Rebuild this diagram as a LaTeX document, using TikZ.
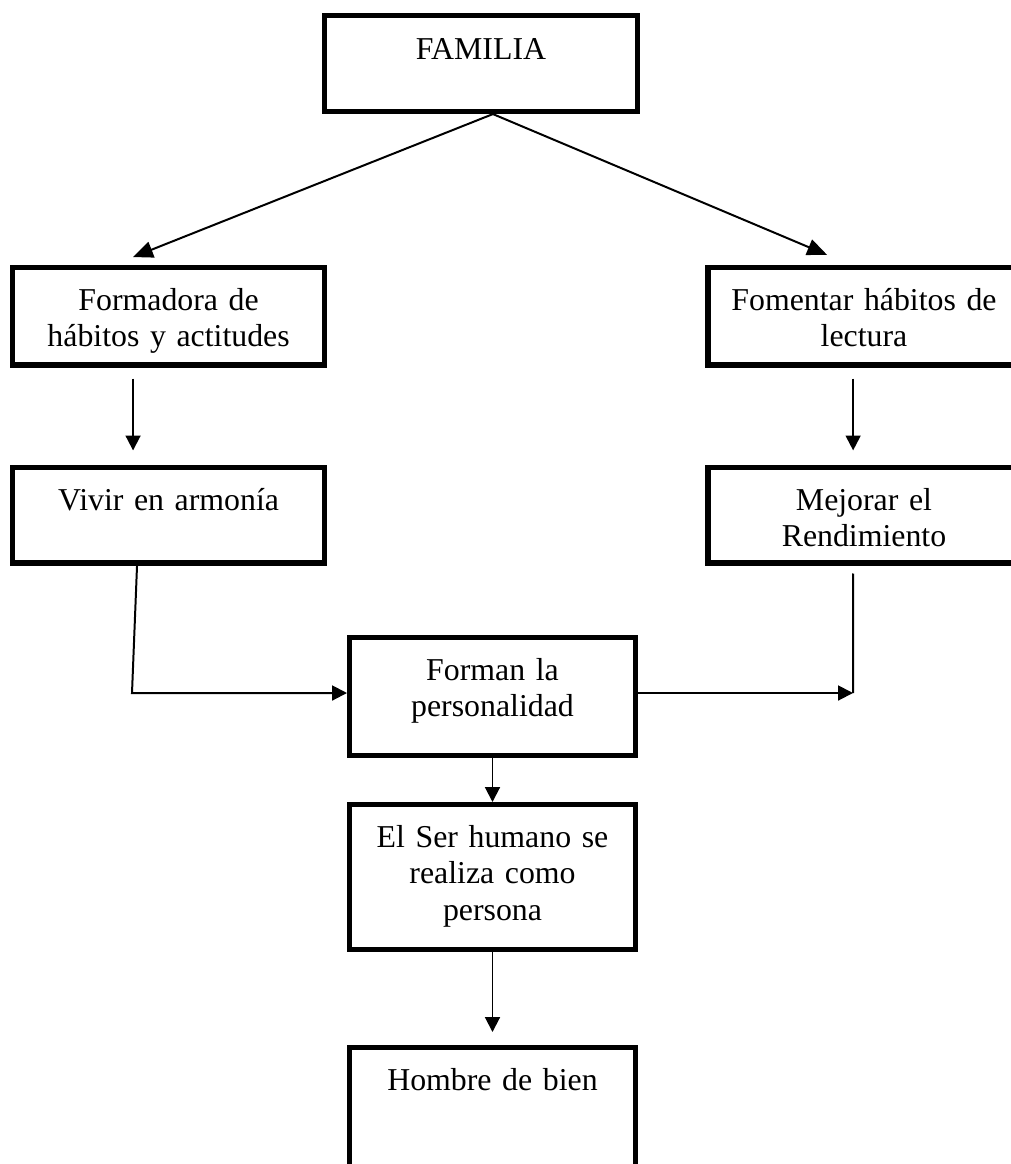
\documentclass[tikz,border=0pt]{standalone}
\usepackage{fontspec}
\setmainfont{Liberation Serif}
\usetikzlibrary{arrows.meta}
\tikzset{caja/.style = {draw, line width=2pt, inner sep=0pt, anchor=north,
                        text width=#1, align=center, text height=16pt,
                        font=\fontsize{12pt}{13.8pt}\selectfont},
         flecha/.style = {line width=0.75pt, -{Triangle[length=5.6pt, width=5.6pt]}},
         flechaDiag/.style = {line width=0.75pt, -{Triangle[length=7.5pt, width=6.2pt]}},
         linea/.style = {line width=0.75pt}}

\begin{document}
\begin{tikzpicture}[x=0.377pt, y=-0.377pt]
    \useasboundingbox (0, 0) rectangle (1011, 1164);

    \node [caja=117.9pt, text height=16.7pt, text depth=19.4pt] (familia) at (481, 13) {FAMILIA};
    \node [caja=117.6pt, text depth=20.7pt] (formadora) at (168.6, 265) {Formadora de\\hábitos y actitudes};
    \node [caja=117.6pt, text depth=20.7pt] (fomentar) at (864, 265) {Fomentar hábitos de\\lectura};
    \node [caja=117.6pt, text depth=19.9pt] (vivir) at (168.6, 465) {Vivir en armonía};
    \node [caja=117.6pt, text depth=19.9pt] (mejorar) at (864, 465) {Mejorar el\\Rendimiento};
    \node [caja=107.7pt, text depth=28.4pt] (forman) at (492.5, 635) {Forman la\\personalidad};
    \node [caja=107.7pt, text depth=38.6pt] (ser) at (492.5, 802) {El Ser humano se\\realiza como\\persona};
    \node [caja=107.7pt, text depth=37pt] (hombre) at (492.5, 1045) {Hombre de bien};

    \coordinate (codoIzq) at (132, 693);
    \coordinate (codoDer) at (853, 693);

    \draw [flechaDiag] ([xshift=4.5pt]familia.south) -- ([xshift=-13.4pt, yshift=3pt]formadora.north);
    \draw [flechaDiag] ([xshift=4.5pt]familia.south) -- ([xshift=-13.9pt, yshift=3.8pt]fomentar.north);

    \draw [flecha] ([xshift=-13.4pt, yshift=-4.1pt]formadora.south) -- ([xshift=-13.4pt, yshift=5.5pt]vivir.north);
    \draw [flecha] ([xshift=-4.1pt, yshift=-4.1pt]fomentar.south) -- ([xshift=-4.1pt, yshift=5.5pt]mejorar.north);

    \draw [flecha] ([xshift=-11.9pt]vivir.south) -- (codoIzq) -- (codoIzq -| forman.west);
    \draw [linea] ([xshift=-4.1pt, yshift=-3pt]mejorar.south) -- (codoDer);
    \draw [flecha] (codoDer -| forman.east) -- (codoDer);

    \draw [flecha] (forman) -- (ser);
    \draw [flecha, shorten >=4.9pt] (ser) -- (hombre);
\end{tikzpicture}
\end{document}
